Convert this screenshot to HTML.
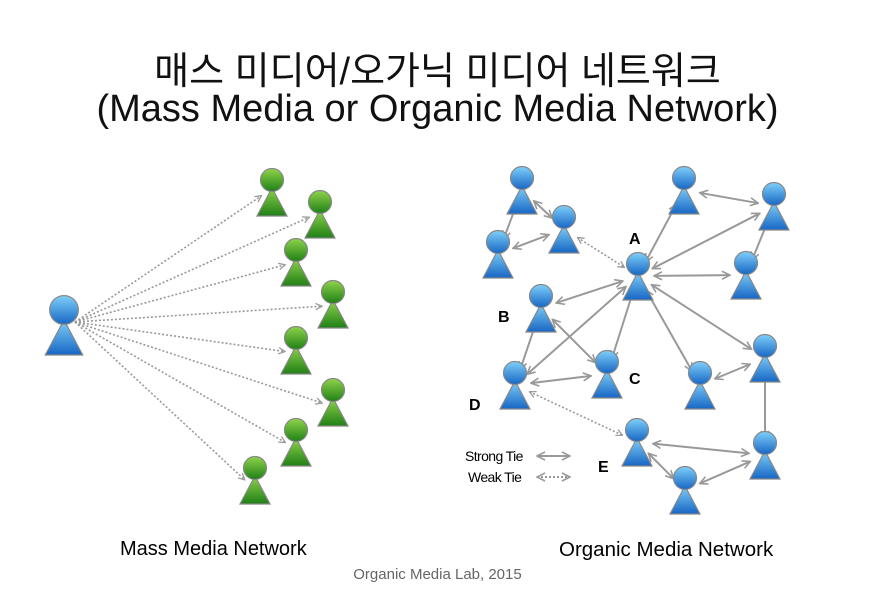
<!DOCTYPE html>
<html><head><meta charset="utf-8"><style>
body{margin:0;background:#fff;width:875px;height:608px;overflow:hidden;position:relative;font-family:"Liberation Sans","Noto Sans CJK KR",sans-serif}
.t{position:absolute;left:0;width:875px;text-align:center;color:#111}
</style></head><body>
<div class="t" style="top:40px;font-size:38px">매스 미디어/오가닉 미디어 네트워크</div>
<div class="t" style="top:88px;font-size:38px">(Mass Media or Organic Media Network)</div>
<div style="position:absolute;left:120px;top:538px;font-size:20px">Mass Media Network</div>
<div style="position:absolute;left:559px;top:538px;font-size:20.5px">Organic Media Network</div>
<div class="t" style="top:566px;font-size:15px;color:#666">Organic Media Lab, 2015</div>
<svg id="s" width="875" height="608" style="position:absolute;left:0;top:0">
<defs>
<linearGradient id="gb" x1="0" y1="0" x2="0" y2="1"><stop offset="0" stop-color="#7fd0fa"/><stop offset="1" stop-color="#1766c4"/></linearGradient>
<linearGradient id="gg" x1="0" y1="0" x2="0" y2="1"><stop offset="0" stop-color="#8fd44a"/><stop offset="1" stop-color="#1f7f16"/></linearGradient>
<marker id="ar" viewBox="0 0 10 10" refX="9" refY="5" markerWidth="5" markerHeight="5" orient="auto-start-reverse"><path d="M1 1L9 5L1 9" fill="none" stroke="#999" stroke-width="1.6"/></marker>
</defs>
<g id="e"></g><g id="n"></g>
<text x="629" y="244" font-size="16" font-weight="bold">A</text>
<text x="498" y="322" font-size="16" font-weight="bold">B</text>
<text x="629" y="384" font-size="16" font-weight="bold">C</text>
<text x="469" y="410" font-size="16" font-weight="bold">D</text>
<text x="598" y="472" font-size="16" font-weight="bold">E</text>
<text x="465" y="461" font-size="14" letter-spacing="-0.6">Strong Tie</text>
<text x="468" y="482" font-size="14" letter-spacing="-0.6">Weak Tie</text>
<line x1="537" y1="456" x2="570" y2="456" stroke="#999" stroke-width="2" marker-start="url(#ar)" marker-end="url(#ar)"/>
<line x1="537" y1="477" x2="570" y2="477" stroke="#999" stroke-width="2" stroke-dasharray="2 2" marker-start="url(#ar)" marker-end="url(#ar)"/>
</svg>
<script>
var NS="http://www.w3.org/2000/svg",E=document.getElementById('e'),N=document.getElementById('n');
function icon(x,y,s,g){var r=11.5*s;
 var p=document.createElementNS(NS,'path');p.setAttribute('d','M'+x+' '+(y+8*s)+'L'+(x+15*s)+' '+(y+36*s)+'L'+(x-15*s)+' '+(y+36*s)+'Z');
 p.setAttribute('fill','url(#'+g+')');p.setAttribute('stroke','#888');p.setAttribute('stroke-width',1.2);N.appendChild(p);
 var c=document.createElementNS(NS,'circle');c.setAttribute('cx',x);c.setAttribute('cy',y);c.setAttribute('r',r);
 c.setAttribute('fill','url(#'+g+')');c.setAttribute('stroke','#888');c.setAttribute('stroke-width',1.2);N.appendChild(c);}
function line(a,b,d,both,sh1,sh2){var dx=b[0]-a[0],dy=b[1]-a[1],L=Math.hypot(dx,dy);
 var l=document.createElementNS(NS,'line');
 l.setAttribute('x1',a[0]+dx/L*sh1);l.setAttribute('y1',a[1]+dy/L*sh1);l.setAttribute('x2',b[0]-dx/L*sh2);l.setAttribute('y2',b[1]-dy/L*sh2);
 l.setAttribute('stroke','#999');l.setAttribute('stroke-width',d?1.6:2);if(d)l.setAttribute('stroke-dasharray','2 2');
 l.setAttribute('marker-end','url(#ar)');if(both)l.setAttribute('marker-start','url(#ar)');E.appendChild(l);}
var G=[[272,180],[320,202],[296,250],[333,292],[296,338],[333,390],[296,430],[255,468]];
G.forEach(function(g){line([75,322],[g[0]-8,g[1]+14],true,false,0,3);icon(g[0],g[1],1,'gg');});
icon(64,310,1.25,'gb');
var P={n1:[522,178],n2:[564,217],n3:[498,242],A:[638,264],n5:[684,178],n6:[774,194],n7:[746,263],B:[541,296],C:[607,362],D:[515,373],n11:[700,373],n12:[765,346],E:[637,430],n14:[765,443],n15:[685,478]};
var S=[['n1','n3'],['n1','n2'],['n3','n2'],['A','n5'],['A','n6'],['n5','n6'],['n6','n7'],['A','n7'],['A','B'],['A','C'],['A','D'],['A','n11'],['A','n12'],['B','C'],['B','D'],['D','C'],['n11','n12'],['n12','n14'],['E','n14'],['E','n15'],['n15','n14']];
function c(k){var p=P[k];return [p[0],p[1]+12];}
S.forEach(function(s){line(c(s[0]),c(s[1]),false,true,16,16);});
line(c('n2'),c('A'),true,true,16,16);line(c('D'),c('E'),true,true,16,16);
for(var k in P)icon(P[k][0],P[k][1],1,'gb');
</script>
</body></html>
